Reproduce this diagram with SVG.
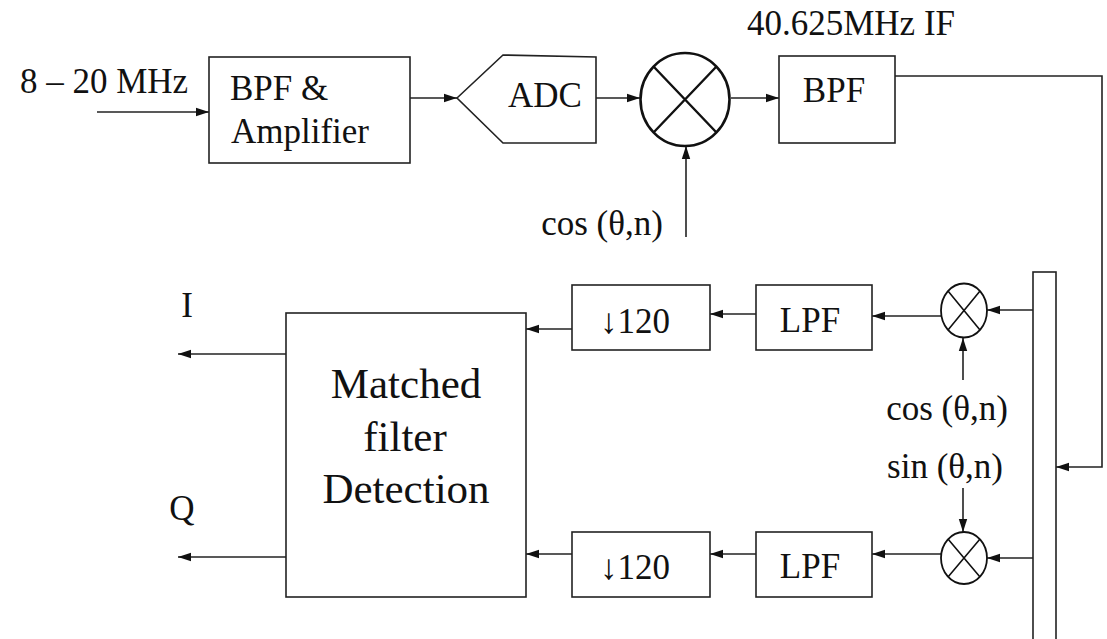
<svg xmlns="http://www.w3.org/2000/svg" width="1107" height="639" viewBox="0 0 1107 639">
<style>
.box{fill:#fff;stroke:#222;stroke-width:1.6}
.ln{fill:none;stroke:#222;stroke-width:1.6}
.mx{fill:#fff;stroke:#111;stroke-width:1.8}
.bigmx{fill:#fff;stroke:#111;stroke-width:2.6}
</style>
<defs>
<marker id="ar" markerUnits="userSpaceOnUse" markerWidth="14" markerHeight="10" refX="13" refY="5" orient="auto">
<path d="M0,0.8 L13,5 L0,9.2 Z" fill="#111"/>
</marker>
</defs>
<rect width="1107" height="639" fill="#fff"/>

<g id="connectors">
<line class="ln" x1="97" y1="112" x2="209" y2="112" marker-end="url(#ar)"/>
<line class="ln" x1="410" y1="98" x2="457" y2="98" marker-end="url(#ar)"/>
<line class="ln" x1="596" y1="98" x2="640" y2="98" marker-end="url(#ar)"/>
<line class="ln" x1="731" y1="98" x2="779" y2="98" marker-end="url(#ar)"/>
<line class="ln" x1="686" y1="237" x2="686" y2="146" marker-end="url(#ar)"/>
<polyline class="ln" points="895,76 1102,76 1102,467 1056,467" marker-end="url(#ar)"/>
<line class="ln" x1="1033" y1="310" x2="987" y2="310" marker-end="url(#ar)"/>
<line class="ln" x1="963" y1="380" x2="963" y2="338" marker-end="url(#ar)"/>
<line class="ln" x1="963" y1="488" x2="963" y2="532" marker-end="url(#ar)"/>
<line class="ln" x1="1033" y1="558" x2="987" y2="558" marker-end="url(#ar)"/>
<line class="ln" x1="941" y1="316" x2="872" y2="316" marker-end="url(#ar)"/>
<line class="ln" x1="756" y1="314" x2="710" y2="314" marker-end="url(#ar)"/>
<line class="ln" x1="572" y1="329" x2="526" y2="329" marker-end="url(#ar)"/>
<line class="ln" x1="941" y1="554" x2="872" y2="554" marker-end="url(#ar)"/>
<line class="ln" x1="756" y1="554" x2="710" y2="554" marker-end="url(#ar)"/>
<line class="ln" x1="572" y1="554" x2="526" y2="554" marker-end="url(#ar)"/>
<line class="ln" x1="286" y1="354" x2="178" y2="354" marker-end="url(#ar)"/>
<line class="ln" x1="286" y1="557" x2="178" y2="557" marker-end="url(#ar)"/>
</g>

<g id="labels" fill="#111" font-family="Liberation Serif" font-size="35" text-anchor="middle">
<text x="104" y="93">8 – 20 MHz</text>
<text x="851" y="35">40.625MHz IF</text>
<text x="602" y="235">cos (θ,n)</text>
<text x="947" y="420">cos (θ,n)</text>
<text x="945" y="478">sin (θ,n)</text>
<text x="187" y="317">I</text>
<text x="182" y="520">Q</text>
</g>

<g id="bpf-amp">
<rect class="box" x="209" y="57" width="201" height="106"/>
<g fill="#111" font-family="Liberation Serif" font-size="35">
<text x="230" y="100">BPF &amp;</text>
<text x="231" y="143">Amplifier</text>
</g>
</g>

<g id="adc">
<polygon class="box" points="457,98 503,55 596,57 596,143 503,143"/>
<g fill="#111" font-family="Liberation Serif" font-size="35" text-anchor="middle"><text x="545" y="107">ADC</text></g>
</g>

<g id="mixer-main">
<ellipse class="bigmx" cx="685" cy="99.5" rx="44.5" ry="46.5"/>
<path class="ln" style="stroke-width:2.4;stroke:#111" d="M654,67 L716,132 M716,67 L654,132"/>
</g>

<g id="bpf-if">
<rect class="box" x="779" y="56" width="116" height="87"/>
<g fill="#111" font-family="Liberation Serif" font-size="35" text-anchor="middle"><text x="834" y="102">BPF</text></g>
</g>

<g id="bar">
<rect class="box" x="1033" y="272" width="23" height="380"/>
</g>

<g id="mixer-i">
<ellipse class="mx" cx="964" cy="310.5" rx="23" ry="27"/>
<path class="ln" style="stroke:#111" d="M948,291 L980,330 M980,291 L948,330"/>
</g>

<g id="mixer-q">
<ellipse class="mx" cx="964" cy="558" rx="23" ry="26"/>
<path class="ln" style="stroke:#111" d="M948,539 L980,577 M980,539 L948,577"/>
</g>

<g id="lpf-i">
<rect class="box" x="756" y="285" width="116" height="65"/>
<g fill="#111" font-family="Liberation Serif" font-size="35" text-anchor="middle"><text x="810" y="332">LPF</text></g>
</g>

<g id="dec-i">
<rect class="box" x="572" y="285" width="138" height="65"/>
<g fill="#111" font-family="Liberation Serif" font-size="35" text-anchor="middle"><text x="635" y="333">↓120</text></g>
</g>

<g id="lpf-q">
<rect class="box" x="756" y="532" width="116" height="65"/>
<g fill="#111" font-family="Liberation Serif" font-size="35" text-anchor="middle"><text x="810" y="578">LPF</text></g>
</g>

<g id="dec-q">
<rect class="box" x="572" y="532" width="138" height="65"/>
<g fill="#111" font-family="Liberation Serif" font-size="35" text-anchor="middle"><text x="635" y="579">↓120</text></g>
</g>

<g id="matched">
<rect class="box" x="286" y="313" width="240" height="284"/>
<g fill="#111" font-family="Liberation Serif" font-size="43" text-anchor="middle">
<text x="406" y="398">Matched</text>
<text x="405" y="451">filter</text>
<text x="406" y="503">Detection</text>
</g>
</g>
</svg>
